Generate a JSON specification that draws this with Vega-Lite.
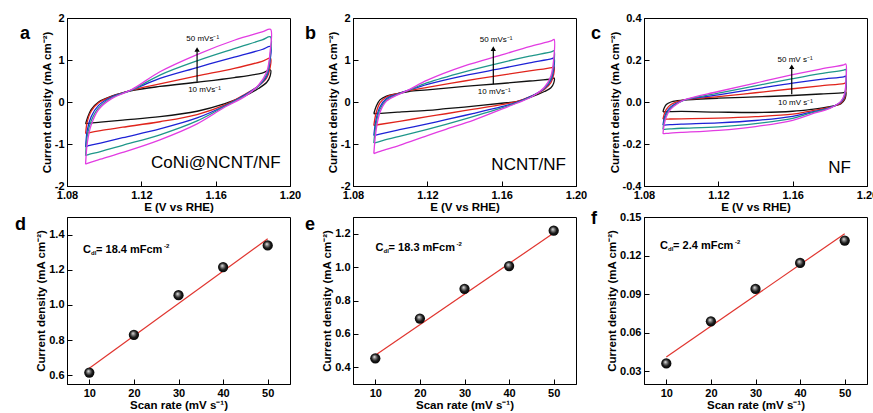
{
  "$schema": "https://vega.github.io/schema/vega-lite/v6.json",
  "background": "white",
  "padding": {"left": 14, "top": 11, "right": 0, "bottom": 0},
  "columns": 3,
  "align": "each",
  "spacing": {"column": 2, "row": -4},
  "datasets": {
    "cv": [
      {"p":"a","r":10,"i":0,"E":1.09,"j":-0.52},{"p":"a","r":10,"i":1,"E":1.091,"j":-0.38},{"p":"a","r":10,"i":2,"E":1.093,"j":-0.18},{"p":"a","r":10,"i":3,"E":1.097,"j":0.0},{"p":"a","r":10,"i":4,"E":1.104,"j":0.14},{"p":"a","r":10,"i":5,"E":1.115,"j":0.27},{"p":"a","r":10,"i":6,"E":1.13,"j":0.37},{"p":"a","r":10,"i":7,"E":1.15,"j":0.47},{"p":"a","r":10,"i":8,"E":1.17,"j":0.58},{"p":"a","r":10,"i":9,"E":1.185,"j":0.69},{"p":"a","r":10,"i":10,"E":1.1895,"j":0.76},{"p":"a","r":10,"i":11,"E":1.1893,"j":0.62},{"p":"a","r":10,"i":12,"E":1.1875,"j":0.47},{"p":"a","r":10,"i":13,"E":1.183,"j":0.32},{"p":"a","r":10,"i":14,"E":1.176,"j":0.15},{"p":"a","r":10,"i":15,"E":1.165,"j":-0.04},{"p":"a","r":10,"i":16,"E":1.15,"j":-0.22},{"p":"a","r":10,"i":17,"E":1.13,"j":-0.35},{"p":"a","r":10,"i":18,"E":1.11,"j":-0.43},{"p":"a","r":10,"i":19,"E":1.098,"j":-0.48},{"p":"a","r":10,"i":20,"E":1.091,"j":-0.51},{"p":"a","r":10,"i":21,"E":1.09,"j":-0.52},
      {"p":"a","r":20,"i":0,"E":1.09,"j":-0.75},{"p":"a","r":20,"i":1,"E":1.091,"j":-0.45},{"p":"a","r":20,"i":2,"E":1.093,"j":-0.22},{"p":"a","r":20,"i":3,"E":1.097,"j":-0.02},{"p":"a","r":20,"i":4,"E":1.104,"j":0.13},{"p":"a","r":20,"i":5,"E":1.115,"j":0.28},{"p":"a","r":20,"i":6,"E":1.13,"j":0.43},{"p":"a","r":20,"i":7,"E":1.15,"j":0.62},{"p":"a","r":20,"i":8,"E":1.17,"j":0.8},{"p":"a","r":20,"i":9,"E":1.185,"j":0.97},{"p":"a","r":20,"i":10,"E":1.1895,"j":1.04},{"p":"a","r":20,"i":11,"E":1.1893,"j":0.82},{"p":"a","r":20,"i":12,"E":1.1875,"j":0.58},{"p":"a","r":20,"i":13,"E":1.183,"j":0.38},{"p":"a","r":20,"i":14,"E":1.176,"j":0.19},{"p":"a","r":20,"i":15,"E":1.165,"j":-0.07},{"p":"a","r":20,"i":16,"E":1.15,"j":-0.3},{"p":"a","r":20,"i":17,"E":1.13,"j":-0.47},{"p":"a","r":20,"i":18,"E":1.11,"j":-0.6},{"p":"a","r":20,"i":19,"E":1.098,"j":-0.68},{"p":"a","r":20,"i":20,"E":1.091,"j":-0.74},{"p":"a","r":20,"i":21,"E":1.09,"j":-0.75},
      {"p":"a","r":30,"i":0,"E":1.09,"j":-1.07},{"p":"a","r":30,"i":1,"E":1.091,"j":-0.65},{"p":"a","r":30,"i":2,"E":1.093,"j":-0.35},{"p":"a","r":30,"i":3,"E":1.097,"j":-0.08},{"p":"a","r":30,"i":4,"E":1.104,"j":0.12},{"p":"a","r":30,"i":5,"E":1.115,"j":0.29},{"p":"a","r":30,"i":6,"E":1.13,"j":0.56},{"p":"a","r":30,"i":7,"E":1.15,"j":0.82},{"p":"a","r":30,"i":8,"E":1.17,"j":1.07},{"p":"a","r":30,"i":9,"E":1.185,"j":1.25},{"p":"a","r":30,"i":10,"E":1.1895,"j":1.32},{"p":"a","r":30,"i":11,"E":1.1893,"j":1.0},{"p":"a","r":30,"i":12,"E":1.1875,"j":0.62},{"p":"a","r":30,"i":13,"E":1.183,"j":0.38},{"p":"a","r":30,"i":14,"E":1.176,"j":0.18},{"p":"a","r":30,"i":15,"E":1.165,"j":-0.09},{"p":"a","r":30,"i":16,"E":1.15,"j":-0.38},{"p":"a","r":30,"i":17,"E":1.13,"j":-0.64},{"p":"a","r":30,"i":18,"E":1.11,"j":-0.85},{"p":"a","r":30,"i":19,"E":1.098,"j":-0.98},{"p":"a","r":30,"i":20,"E":1.091,"j":-1.05},{"p":"a","r":30,"i":21,"E":1.09,"j":-1.07},
      {"p":"a","r":40,"i":0,"E":1.09,"j":-1.28},{"p":"a","r":40,"i":1,"E":1.091,"j":-0.78},{"p":"a","r":40,"i":2,"E":1.093,"j":-0.45},{"p":"a","r":40,"i":3,"E":1.097,"j":-0.14},{"p":"a","r":40,"i":4,"E":1.104,"j":0.1},{"p":"a","r":40,"i":5,"E":1.115,"j":0.29},{"p":"a","r":40,"i":6,"E":1.13,"j":0.64},{"p":"a","r":40,"i":7,"E":1.15,"j":0.98},{"p":"a","r":40,"i":8,"E":1.17,"j":1.27},{"p":"a","r":40,"i":9,"E":1.185,"j":1.48},{"p":"a","r":40,"i":10,"E":1.1895,"j":1.55},{"p":"a","r":40,"i":11,"E":1.1893,"j":1.1},{"p":"a","r":40,"i":12,"E":1.1875,"j":0.66},{"p":"a","r":40,"i":13,"E":1.183,"j":0.38},{"p":"a","r":40,"i":14,"E":1.176,"j":0.16},{"p":"a","r":40,"i":15,"E":1.165,"j":-0.1},{"p":"a","r":40,"i":16,"E":1.15,"j":-0.45},{"p":"a","r":40,"i":17,"E":1.13,"j":-0.78},{"p":"a","r":40,"i":18,"E":1.11,"j":-1.03},{"p":"a","r":40,"i":19,"E":1.098,"j":-1.18},{"p":"a","r":40,"i":20,"E":1.091,"j":-1.26},{"p":"a","r":40,"i":21,"E":1.09,"j":-1.28},
      {"p":"a","r":50,"i":0,"E":1.09,"j":-1.48},{"p":"a","r":50,"i":1,"E":1.091,"j":-0.95},{"p":"a","r":50,"i":2,"E":1.093,"j":-0.55},{"p":"a","r":50,"i":3,"E":1.097,"j":-0.18},{"p":"a","r":50,"i":4,"E":1.104,"j":0.08},{"p":"a","r":50,"i":5,"E":1.115,"j":0.3},{"p":"a","r":50,"i":6,"E":1.13,"j":0.72},{"p":"a","r":50,"i":7,"E":1.15,"j":1.13},{"p":"a","r":50,"i":8,"E":1.17,"j":1.47},{"p":"a","r":50,"i":9,"E":1.185,"j":1.67},{"p":"a","r":50,"i":10,"E":1.1895,"j":1.73},{"p":"a","r":50,"i":11,"E":1.1893,"j":1.2},{"p":"a","r":50,"i":12,"E":1.1875,"j":0.72},{"p":"a","r":50,"i":13,"E":1.183,"j":0.4},{"p":"a","r":50,"i":14,"E":1.176,"j":0.14},{"p":"a","r":50,"i":15,"E":1.165,"j":-0.12},{"p":"a","r":50,"i":16,"E":1.15,"j":-0.52},{"p":"a","r":50,"i":17,"E":1.13,"j":-0.9},{"p":"a","r":50,"i":18,"E":1.11,"j":-1.2},{"p":"a","r":50,"i":19,"E":1.098,"j":-1.36},{"p":"a","r":50,"i":20,"E":1.091,"j":-1.46},{"p":"a","r":50,"i":21,"E":1.09,"j":-1.48},
      {"p":"b","r":10,"i":0,"E":1.0912,"j":-0.28},{"p":"b","r":10,"i":1,"E":1.0925,"j":-0.1},{"p":"b","r":10,"i":2,"E":1.0945,"j":0.05},{"p":"b","r":10,"i":3,"E":1.098,"j":0.14},{"p":"b","r":10,"i":4,"E":1.104,"j":0.2},{"p":"b","r":10,"i":5,"E":1.11,"j":0.25},{"p":"b","r":10,"i":6,"E":1.12,"j":0.29},{"p":"b","r":10,"i":7,"E":1.14,"j":0.37},{"p":"b","r":10,"i":8,"E":1.16,"j":0.44},{"p":"b","r":10,"i":9,"E":1.175,"j":0.5},{"p":"b","r":10,"i":10,"E":1.187,"j":0.55},{"p":"b","r":10,"i":11,"E":1.1882,"j":0.57},{"p":"b","r":10,"i":12,"E":1.188,"j":0.45},{"p":"b","r":10,"i":13,"E":1.1865,"j":0.34},{"p":"b","r":10,"i":14,"E":1.183,"j":0.25},{"p":"b","r":10,"i":15,"E":1.176,"j":0.12},{"p":"b","r":10,"i":16,"E":1.168,"j":0.01},{"p":"b","r":10,"i":17,"E":1.16,"j":-0.03},{"p":"b","r":10,"i":18,"E":1.145,"j":-0.1},{"p":"b","r":10,"i":19,"E":1.13,"j":-0.16},{"p":"b","r":10,"i":20,"E":1.12,"j":-0.2},{"p":"b","r":10,"i":21,"E":1.105,"j":-0.24},{"p":"b","r":10,"i":22,"E":1.095,"j":-0.27},{"p":"b","r":10,"i":23,"E":1.0912,"j":-0.28},
      {"p":"b","r":20,"i":0,"E":1.0912,"j":-0.56},{"p":"b","r":20,"i":1,"E":1.0925,"j":-0.25},{"p":"b","r":20,"i":2,"E":1.0945,"j":-0.02},{"p":"b","r":20,"i":3,"E":1.098,"j":0.12},{"p":"b","r":20,"i":4,"E":1.104,"j":0.2},{"p":"b","r":20,"i":5,"E":1.11,"j":0.27},{"p":"b","r":20,"i":6,"E":1.12,"j":0.35},{"p":"b","r":20,"i":7,"E":1.14,"j":0.5},{"p":"b","r":20,"i":8,"E":1.16,"j":0.64},{"p":"b","r":20,"i":9,"E":1.175,"j":0.74},{"p":"b","r":20,"i":10,"E":1.187,"j":0.82},{"p":"b","r":20,"i":11,"E":1.1882,"j":0.84},{"p":"b","r":20,"i":12,"E":1.188,"j":0.66},{"p":"b","r":20,"i":13,"E":1.1865,"j":0.46},{"p":"b","r":20,"i":14,"E":1.183,"j":0.3},{"p":"b","r":20,"i":15,"E":1.176,"j":0.14},{"p":"b","r":20,"i":16,"E":1.168,"j":0.01},{"p":"b","r":20,"i":17,"E":1.16,"j":-0.06},{"p":"b","r":20,"i":18,"E":1.145,"j":-0.17},{"p":"b","r":20,"i":19,"E":1.13,"j":-0.28},{"p":"b","r":20,"i":20,"E":1.12,"j":-0.35},{"p":"b","r":20,"i":21,"E":1.105,"j":-0.46},{"p":"b","r":20,"i":22,"E":1.095,"j":-0.53},{"p":"b","r":20,"i":23,"E":1.0912,"j":-0.56},
      {"p":"b","r":30,"i":0,"E":1.0912,"j":-0.8},{"p":"b","r":30,"i":1,"E":1.0925,"j":-0.4},{"p":"b","r":30,"i":2,"E":1.0945,"j":-0.12},{"p":"b","r":30,"i":3,"E":1.098,"j":0.08},{"p":"b","r":30,"i":4,"E":1.104,"j":0.19},{"p":"b","r":30,"i":5,"E":1.11,"j":0.28},{"p":"b","r":30,"i":6,"E":1.12,"j":0.42},{"p":"b","r":30,"i":7,"E":1.14,"j":0.63},{"p":"b","r":30,"i":8,"E":1.16,"j":0.8},{"p":"b","r":30,"i":9,"E":1.175,"j":0.93},{"p":"b","r":30,"i":10,"E":1.187,"j":1.03},{"p":"b","r":30,"i":11,"E":1.1882,"j":1.05},{"p":"b","r":30,"i":12,"E":1.188,"j":0.78},{"p":"b","r":30,"i":13,"E":1.1865,"j":0.52},{"p":"b","r":30,"i":14,"E":1.183,"j":0.32},{"p":"b","r":30,"i":15,"E":1.176,"j":0.14},{"p":"b","r":30,"i":16,"E":1.168,"j":-0.01},{"p":"b","r":30,"i":17,"E":1.16,"j":-0.11},{"p":"b","r":30,"i":18,"E":1.145,"j":-0.27},{"p":"b","r":30,"i":19,"E":1.13,"j":-0.42},{"p":"b","r":30,"i":20,"E":1.12,"j":-0.52},{"p":"b","r":30,"i":21,"E":1.105,"j":-0.66},{"p":"b","r":30,"i":22,"E":1.095,"j":-0.76},{"p":"b","r":30,"i":23,"E":1.0912,"j":-0.8},
      {"p":"b","r":40,"i":0,"E":1.0912,"j":-0.98},{"p":"b","r":40,"i":1,"E":1.0925,"j":-0.5},{"p":"b","r":40,"i":2,"E":1.0945,"j":-0.18},{"p":"b","r":40,"i":3,"E":1.098,"j":0.05},{"p":"b","r":40,"i":4,"E":1.104,"j":0.18},{"p":"b","r":40,"i":5,"E":1.11,"j":0.28},{"p":"b","r":40,"i":6,"E":1.12,"j":0.46},{"p":"b","r":40,"i":7,"E":1.14,"j":0.72},{"p":"b","r":40,"i":8,"E":1.16,"j":0.94},{"p":"b","r":40,"i":9,"E":1.175,"j":1.09},{"p":"b","r":40,"i":10,"E":1.187,"j":1.2},{"p":"b","r":40,"i":11,"E":1.1882,"j":1.22},{"p":"b","r":40,"i":12,"E":1.188,"j":0.88},{"p":"b","r":40,"i":13,"E":1.1865,"j":0.56},{"p":"b","r":40,"i":14,"E":1.183,"j":0.33},{"p":"b","r":40,"i":15,"E":1.176,"j":0.13},{"p":"b","r":40,"i":16,"E":1.168,"j":-0.02},{"p":"b","r":40,"i":17,"E":1.16,"j":-0.14},{"p":"b","r":40,"i":18,"E":1.145,"j":-0.34},{"p":"b","r":40,"i":19,"E":1.13,"j":-0.53},{"p":"b","r":40,"i":20,"E":1.12,"j":-0.65},{"p":"b","r":40,"i":21,"E":1.105,"j":-0.82},{"p":"b","r":40,"i":22,"E":1.095,"j":-0.93},{"p":"b","r":40,"i":23,"E":1.0912,"j":-0.98},
      {"p":"b","r":50,"i":0,"E":1.0912,"j":-1.23},{"p":"b","r":50,"i":1,"E":1.0925,"j":-0.65},{"p":"b","r":50,"i":2,"E":1.0945,"j":-0.25},{"p":"b","r":50,"i":3,"E":1.098,"j":0.02},{"p":"b","r":50,"i":4,"E":1.104,"j":0.17},{"p":"b","r":50,"i":5,"E":1.11,"j":0.29},{"p":"b","r":50,"i":6,"E":1.12,"j":0.52},{"p":"b","r":50,"i":7,"E":1.14,"j":0.86},{"p":"b","r":50,"i":8,"E":1.16,"j":1.12},{"p":"b","r":50,"i":9,"E":1.175,"j":1.32},{"p":"b","r":50,"i":10,"E":1.187,"j":1.46},{"p":"b","r":50,"i":11,"E":1.1882,"j":1.49},{"p":"b","r":50,"i":12,"E":1.188,"j":1.02},{"p":"b","r":50,"i":13,"E":1.1865,"j":0.62},{"p":"b","r":50,"i":14,"E":1.183,"j":0.35},{"p":"b","r":50,"i":15,"E":1.176,"j":0.12},{"p":"b","r":50,"i":16,"E":1.168,"j":-0.03},{"p":"b","r":50,"i":17,"E":1.16,"j":-0.17},{"p":"b","r":50,"i":18,"E":1.145,"j":-0.43},{"p":"b","r":50,"i":19,"E":1.13,"j":-0.65},{"p":"b","r":50,"i":20,"E":1.12,"j":-0.8},{"p":"b","r":50,"i":21,"E":1.105,"j":-1.03},{"p":"b","r":50,"i":22,"E":1.095,"j":-1.17},{"p":"b","r":50,"i":23,"E":1.0912,"j":-1.23},
      {"p":"c","r":10,"i":0,"E":1.0902,"j":-0.047},{"p":"c","r":10,"i":1,"E":1.0908,"j":-0.03},{"p":"c","r":10,"i":2,"E":1.092,"j":-0.012},{"p":"c","r":10,"i":3,"E":1.0945,"j":0.0},{"p":"c","r":10,"i":4,"E":1.098,"j":0.006},{"p":"c","r":10,"i":5,"E":1.102,"j":0.01},{"p":"c","r":10,"i":6,"E":1.12,"j":0.018},{"p":"c","r":10,"i":7,"E":1.14,"j":0.024},{"p":"c","r":10,"i":8,"E":1.16,"j":0.031},{"p":"c","r":10,"i":9,"E":1.175,"j":0.038},{"p":"c","r":10,"i":10,"E":1.1875,"j":0.045},{"p":"c","r":10,"i":11,"E":1.1886,"j":0.048},{"p":"c","r":10,"i":12,"E":1.1886,"j":0.03},{"p":"c","r":10,"i":13,"E":1.188,"j":0.012},{"p":"c","r":10,"i":14,"E":1.186,"j":-0.008},{"p":"c","r":10,"i":15,"E":1.18,"j":-0.022},{"p":"c","r":10,"i":16,"E":1.17,"j":-0.035},{"p":"c","r":10,"i":17,"E":1.16,"j":-0.044},{"p":"c","r":10,"i":18,"E":1.14,"j":-0.05},{"p":"c","r":10,"i":19,"E":1.12,"j":-0.048},{"p":"c","r":10,"i":20,"E":1.1,"j":-0.045},{"p":"c","r":10,"i":21,"E":1.094,"j":-0.046},{"p":"c","r":10,"i":22,"E":1.0905,"j":-0.047},{"p":"c","r":10,"i":23,"E":1.0902,"j":-0.047},
      {"p":"c","r":20,"i":0,"E":1.0902,"j":-0.082},{"p":"c","r":20,"i":1,"E":1.0908,"j":-0.06},{"p":"c","r":20,"i":2,"E":1.092,"j":-0.035},{"p":"c","r":20,"i":3,"E":1.0945,"j":-0.012},{"p":"c","r":20,"i":4,"E":1.098,"j":0.002},{"p":"c","r":20,"i":5,"E":1.102,"j":0.01},{"p":"c","r":20,"i":6,"E":1.12,"j":0.026},{"p":"c","r":20,"i":7,"E":1.14,"j":0.044},{"p":"c","r":20,"i":8,"E":1.16,"j":0.063},{"p":"c","r":20,"i":9,"E":1.175,"j":0.077},{"p":"c","r":20,"i":10,"E":1.1875,"j":0.088},{"p":"c","r":20,"i":11,"E":1.1886,"j":0.091},{"p":"c","r":20,"i":12,"E":1.1886,"j":0.05},{"p":"c","r":20,"i":13,"E":1.188,"j":0.02},{"p":"c","r":20,"i":14,"E":1.186,"j":-0.005},{"p":"c","r":20,"i":15,"E":1.18,"j":-0.025},{"p":"c","r":20,"i":16,"E":1.17,"j":-0.042},{"p":"c","r":20,"i":17,"E":1.16,"j":-0.058},{"p":"c","r":20,"i":18,"E":1.14,"j":-0.07},{"p":"c","r":20,"i":19,"E":1.12,"j":-0.077},{"p":"c","r":20,"i":20,"E":1.1,"j":-0.08},{"p":"c","r":20,"i":21,"E":1.094,"j":-0.081},{"p":"c","r":20,"i":22,"E":1.0905,"j":-0.082},{"p":"c","r":20,"i":23,"E":1.0902,"j":-0.082},
      {"p":"c","r":30,"i":0,"E":1.0902,"j":-0.11},{"p":"c","r":30,"i":1,"E":1.0908,"j":-0.08},{"p":"c","r":30,"i":2,"E":1.092,"j":-0.05},{"p":"c","r":30,"i":3,"E":1.0945,"j":-0.022},{"p":"c","r":30,"i":4,"E":1.098,"j":-0.004},{"p":"c","r":30,"i":5,"E":1.102,"j":0.01},{"p":"c","r":30,"i":6,"E":1.12,"j":0.034},{"p":"c","r":30,"i":7,"E":1.14,"j":0.062},{"p":"c","r":30,"i":8,"E":1.16,"j":0.09},{"p":"c","r":30,"i":9,"E":1.175,"j":0.108},{"p":"c","r":30,"i":10,"E":1.1875,"j":0.12},{"p":"c","r":30,"i":11,"E":1.1886,"j":0.123},{"p":"c","r":30,"i":12,"E":1.1886,"j":0.068},{"p":"c","r":30,"i":13,"E":1.188,"j":0.03},{"p":"c","r":30,"i":14,"E":1.186,"j":0.0},{"p":"c","r":30,"i":15,"E":1.18,"j":-0.027},{"p":"c","r":30,"i":16,"E":1.17,"j":-0.048},{"p":"c","r":30,"i":17,"E":1.16,"j":-0.068},{"p":"c","r":30,"i":18,"E":1.14,"j":-0.088},{"p":"c","r":30,"i":19,"E":1.12,"j":-0.099},{"p":"c","r":30,"i":20,"E":1.1,"j":-0.105},{"p":"c","r":30,"i":21,"E":1.094,"j":-0.108},{"p":"c","r":30,"i":22,"E":1.0905,"j":-0.11},{"p":"c","r":30,"i":23,"E":1.0902,"j":-0.11},
      {"p":"c","r":40,"i":0,"E":1.0902,"j":-0.13},{"p":"c","r":40,"i":1,"E":1.0908,"j":-0.095},{"p":"c","r":40,"i":2,"E":1.092,"j":-0.06},{"p":"c","r":40,"i":3,"E":1.0945,"j":-0.028},{"p":"c","r":40,"i":4,"E":1.098,"j":-0.006},{"p":"c","r":40,"i":5,"E":1.102,"j":0.01},{"p":"c","r":40,"i":6,"E":1.12,"j":0.042},{"p":"c","r":40,"i":7,"E":1.14,"j":0.077},{"p":"c","r":40,"i":8,"E":1.16,"j":0.111},{"p":"c","r":40,"i":9,"E":1.175,"j":0.135},{"p":"c","r":40,"i":10,"E":1.1875,"j":0.152},{"p":"c","r":40,"i":11,"E":1.1886,"j":0.155},{"p":"c","r":40,"i":12,"E":1.1886,"j":0.08},{"p":"c","r":40,"i":13,"E":1.188,"j":0.035},{"p":"c","r":40,"i":14,"E":1.186,"j":0.002},{"p":"c","r":40,"i":15,"E":1.18,"j":-0.028},{"p":"c","r":40,"i":16,"E":1.17,"j":-0.052},{"p":"c","r":40,"i":17,"E":1.16,"j":-0.078},{"p":"c","r":40,"i":18,"E":1.14,"j":-0.103},{"p":"c","r":40,"i":19,"E":1.12,"j":-0.118},{"p":"c","r":40,"i":20,"E":1.1,"j":-0.125},{"p":"c","r":40,"i":21,"E":1.094,"j":-0.128},{"p":"c","r":40,"i":22,"E":1.0905,"j":-0.13},{"p":"c","r":40,"i":23,"E":1.0902,"j":-0.13},
      {"p":"c","r":50,"i":0,"E":1.0902,"j":-0.151},{"p":"c","r":50,"i":1,"E":1.0908,"j":-0.11},{"p":"c","r":50,"i":2,"E":1.092,"j":-0.07},{"p":"c","r":50,"i":3,"E":1.0945,"j":-0.033},{"p":"c","r":50,"i":4,"E":1.098,"j":-0.008},{"p":"c","r":50,"i":5,"E":1.102,"j":0.011},{"p":"c","r":50,"i":6,"E":1.12,"j":0.05},{"p":"c","r":50,"i":7,"E":1.14,"j":0.09},{"p":"c","r":50,"i":8,"E":1.16,"j":0.13},{"p":"c","r":50,"i":9,"E":1.175,"j":0.157},{"p":"c","r":50,"i":10,"E":1.1875,"j":0.177},{"p":"c","r":50,"i":11,"E":1.1886,"j":0.181},{"p":"c","r":50,"i":12,"E":1.1886,"j":0.09},{"p":"c","r":50,"i":13,"E":1.188,"j":0.04},{"p":"c","r":50,"i":14,"E":1.186,"j":0.004},{"p":"c","r":50,"i":15,"E":1.18,"j":-0.03},{"p":"c","r":50,"i":16,"E":1.17,"j":-0.058},{"p":"c","r":50,"i":17,"E":1.16,"j":-0.087},{"p":"c","r":50,"i":18,"E":1.14,"j":-0.117},{"p":"c","r":50,"i":19,"E":1.12,"j":-0.135},{"p":"c","r":50,"i":20,"E":1.1,"j":-0.145},{"p":"c","r":50,"i":21,"E":1.094,"j":-0.148},{"p":"c","r":50,"i":22,"E":1.0905,"j":-0.151},{"p":"c","r":50,"i":23,"E":1.0902,"j":-0.151}
    ],
    "pts": [
      {"p":"d","rate":10,"j":0.615},{"p":"d","rate":20,"j":0.83},{"p":"d","rate":30,"j":1.055},{"p":"d","rate":40,"j":1.215},{"p":"d","rate":50,"j":1.338},
      {"p":"e","rate":10,"j":0.454},{"p":"e","rate":20,"j":0.692},{"p":"e","rate":30,"j":0.87},{"p":"e","rate":40,"j":1.006},{"p":"e","rate":50,"j":1.218},
      {"p":"f","rate":10,"j":0.036},{"p":"f","rate":20,"j":0.0688},{"p":"f","rate":30,"j":0.094},{"p":"f","rate":40,"j":0.1142},{"p":"f","rate":50,"j":0.1317}
    ],
    "fit": [
      {"p":"d","rate":10,"j":0.64},{"p":"d","rate":50,"j":1.376},
      {"p":"e","rate":10,"j":0.472},{"p":"e","rate":50,"j":1.204},
      {"p":"f","rate":10,"j":0.041},{"p":"f","rate":50,"j":0.137}
    ]
  },
  "concat": [
    {
      "width": 223, "height": 168,
      "title": {"text": "a", "dx": -47, "dy": 35},
      "layer": [
        {
          "data": {"name": "cv"},
          "transform": [{"filter": "datum.p == 'a'"}],
          "mark": {"type": "line", "interpolate": "catmull-rom", "strokeWidth": 1.3},
          "encoding": {
            "x": {"field": "E", "type": "quantitative", "scale": {"domain": [1.08, 1.2], "nice": false, "zero": false},
              "axis": {"title": "E (V vs RHE)", "values": [1.08, 1.1, 1.12, 1.14, 1.16, 1.18, 1.2], "labelExpr": "round(datum.value*100) % 4 == 0 ? format(datum.value, '.2f') : ''", "tickSize": {"condition": {"test": "round(datum.value*100) % 4 != 0", "value": -3}, "value": -5}}},
            "y": {"field": "j", "type": "quantitative", "scale": {"domain": [-2, 2], "nice": false},
              "axis": {"title": "Current density (mA cm⁻²)", "values": [-2, -1.5, -1, -0.5, 0, 0.5, 1, 1.5, 2], "labelExpr": "round(datum.value*2) % 2 == 0 ? '' + datum.value : ''", "tickSize": {"condition": {"test": "round(datum.value*2) % 2 != 0", "value": -3}, "value": -5}}},
            "color": {"field": "r", "type": "nominal", "scale": {"domain": [10, 20, 30, 40, 50], "range": ["#111111", "#e0241c", "#1e22d6", "#1f978a", "#e23ce2"]}, "legend": null},
            "order": {"field": "i", "type": "quantitative"}
          }
        },
        {"data": {"values": [{}]}, "mark": {"type": "rule", "strokeWidth": 1.2, "color": "#000"}, "encoding": {"x": {"datum": 1.15}, "y": {"datum": 0.48}, "y2": {"datum": 1.2}}},
        {"data": {"values": [{}]}, "mark": {"type": "point", "shape": "triangle-up", "filled": true, "color": "#000", "size": 28, "opacity": 1}, "encoding": {"x": {"datum": 1.15}, "y": {"datum": 1.25}}},
        {"data": {"values": [{}]}, "mark": {"type": "text", "text": "50 mVs⁻¹", "fontSize": 8}, "encoding": {"x": {"datum": 1.153}, "y": {"datum": 1.5}}},
        {"data": {"values": [{}]}, "mark": {"type": "text", "text": "10 mVs⁻¹", "fontSize": 8}, "encoding": {"x": {"datum": 1.154}, "y": {"datum": 0.28}}},
        {"data": {"values": [{}]}, "mark": {"type": "text", "text": "CoNi@NCNT/NF", "fontSize": 17, "align": "right", "baseline": "alphabetic"}, "encoding": {"x": {"datum": 1.195}, "y": {"datum": -1.57}}}
      ]
    },
    {
      "width": 223, "height": 168,
      "title": {"text": "b", "dx": -48, "dy": 35},
      "layer": [
        {
          "data": {"name": "cv"},
          "transform": [{"filter": "datum.p == 'b'"}],
          "mark": {"type": "line", "interpolate": "catmull-rom", "strokeWidth": 1.3},
          "encoding": {
            "x": {"field": "E", "type": "quantitative", "scale": {"domain": [1.08, 1.2], "nice": false, "zero": false},
              "axis": {"title": "E (V vs RHE)", "values": [1.08, 1.1, 1.12, 1.14, 1.16, 1.18, 1.2], "labelExpr": "round(datum.value*100) % 4 == 0 ? format(datum.value, '.2f') : ''", "tickSize": {"condition": {"test": "round(datum.value*100) % 4 != 0", "value": -3}, "value": -5}}},
            "y": {"field": "j", "type": "quantitative", "scale": {"domain": [-2, 2], "nice": false},
              "axis": {"title": "Current density (mA cm⁻²)", "values": [-2, -1.5, -1, -0.5, 0, 0.5, 1, 1.5, 2], "labelExpr": "round(datum.value*2) % 2 == 0 ? '' + datum.value : ''", "tickSize": {"condition": {"test": "round(datum.value*2) % 2 != 0", "value": -3}, "value": -5}}},
            "color": {"field": "r", "type": "nominal", "scale": {"domain": [10, 20, 30, 40, 50], "range": ["#111111", "#e0241c", "#1e22d6", "#1f978a", "#e23ce2"]}, "legend": null},
            "order": {"field": "i", "type": "quantitative"}
          }
        },
        {"data": {"values": [{}]}, "mark": {"type": "rule", "strokeWidth": 1.2, "color": "#000"}, "encoding": {"x": {"datum": 1.1555}, "y": {"datum": 0.42}, "y2": {"datum": 1.22}}},
        {"data": {"values": [{}]}, "mark": {"type": "point", "shape": "triangle-up", "filled": true, "color": "#000", "size": 28, "opacity": 1}, "encoding": {"x": {"datum": 1.1555}, "y": {"datum": 1.27}}},
        {"data": {"values": [{}]}, "mark": {"type": "text", "text": "50 mVs⁻¹", "fontSize": 8}, "encoding": {"x": {"datum": 1.157}, "y": {"datum": 1.48}}},
        {"data": {"values": [{}]}, "mark": {"type": "text", "text": "10 mVs⁻¹", "fontSize": 8}, "encoding": {"x": {"datum": 1.156}, "y": {"datum": 0.24}}},
        {"data": {"values": [{}]}, "mark": {"type": "text", "text": "NCNT/NF", "fontSize": 17, "align": "right", "baseline": "alphabetic"}, "encoding": {"x": {"datum": 1.1946}, "y": {"datum": -1.62}}}
      ]
    },
    {
      "width": 223, "height": 168,
      "title": {"text": "c", "dx": -53, "dy": 35},
      "layer": [
        {
          "data": {"name": "cv"},
          "transform": [{"filter": "datum.p == 'c'"}],
          "mark": {"type": "line", "interpolate": "catmull-rom", "strokeWidth": 1.3},
          "encoding": {
            "x": {"field": "E", "type": "quantitative", "scale": {"domain": [1.08, 1.2], "nice": false, "zero": false},
              "axis": {"title": "E (V vs RHE)", "values": [1.08, 1.1, 1.12, 1.14, 1.16, 1.18, 1.2], "labelExpr": "round(datum.value*100) % 4 == 0 ? format(datum.value, '.2f') : ''", "tickSize": {"condition": {"test": "round(datum.value*100) % 4 != 0", "value": -3}, "value": -5}}},
            "y": {"field": "j", "type": "quantitative", "scale": {"domain": [-0.4, 0.4], "nice": false},
              "axis": {"title": "Current density (mA cm⁻²)", "values": [-0.4, -0.3, -0.2, -0.1, 0, 0.1, 0.2, 0.3, 0.4], "labelExpr": "round(datum.value*10) % 2 == 0 ? (datum.value < 0 ? '-' : '') + format(abs(datum.value), '.1f') : ''", "tickSize": {"condition": {"test": "round(datum.value*10) % 2 != 0", "value": -3}, "value": -5}}},
            "color": {"field": "r", "type": "nominal", "scale": {"domain": [10, 20, 30, 40, 50], "range": ["#111111", "#e0241c", "#1e22d6", "#1f978a", "#e23ce2"]}, "legend": null},
            "order": {"field": "i", "type": "quantitative"}
          }
        },
        {"data": {"values": [{}]}, "mark": {"type": "rule", "strokeWidth": 1.2, "color": "#000"}, "encoding": {"x": {"datum": 1.1595}, "y": {"datum": 0.037}, "y2": {"datum": 0.16}}},
        {"data": {"values": [{}]}, "mark": {"type": "point", "shape": "triangle-up", "filled": true, "color": "#000", "size": 28, "opacity": 1}, "encoding": {"x": {"datum": 1.1595}, "y": {"datum": 0.168}}},
        {"data": {"values": [{}]}, "mark": {"type": "text", "text": "50 mV s⁻¹", "fontSize": 8}, "encoding": {"x": {"datum": 1.1613}, "y": {"datum": 0.202}}},
        {"data": {"values": [{}]}, "mark": {"type": "text", "text": "10 mV s⁻¹", "fontSize": 8}, "encoding": {"x": {"datum": 1.1615}, "y": {"datum": -0.006}}},
        {"data": {"values": [{}]}, "mark": {"type": "text", "text": "NF", "fontSize": 17, "align": "right", "baseline": "alphabetic"}, "encoding": {"x": {"datum": 1.1914}, "y": {"datum": -0.338}}}
      ]
    },
    {
      "width": 223, "height": 167,
      "title": {"text": "d", "dx": -52, "dy": 21},
      "layer": [
        {
          "data": {"name": "fit"},
          "transform": [{"filter": "datum.p == 'd'"}],
          "mark": {"type": "line", "color": "#e0352f", "strokeWidth": 1.2},
          "encoding": {
            "x": {"field": "rate", "type": "quantitative", "scale": {"domain": [5, 55], "nice": false, "zero": false},
              "axis": {"title": "Scan rate (mV s⁻¹)", "values": [10, 15, 20, 25, 30, 35, 40, 45, 50], "labelExpr": "datum.value % 10 == 0 ? '' + datum.value : ''", "tickSize": {"condition": {"test": "datum.value % 10 != 0", "value": -3}, "value": -5}}},
            "y": {"field": "j", "type": "quantitative", "scale": {"domain": [0.55, 1.5], "nice": false, "zero": false},
              "axis": {"title": "Current density (mA cm⁻²)", "values": [0.6, 0.7, 0.8, 0.9, 1.0, 1.1, 1.2, 1.3, 1.4], "labelExpr": "round(datum.value*10) % 2 == 0 ? format(datum.value, '.1f') : ''", "tickSize": {"condition": {"test": "round(datum.value*10) % 2 != 0", "value": -3}, "value": -5}}}
          }
        },
        {
          "data": {"name": "pts"},
          "transform": [{"filter": "datum.p == 'd'"}],
          "mark": {"type": "point", "filled": true, "size": 105, "opacity": 1, "strokeWidth": 0, "fill": {"gradient": "radial", "x1": 0.4, "y1": 0.35, "r1": 0, "x2": 0.5, "y2": 0.5, "r2": 0.55, "stops": [{"offset": 0, "color": "#f2f2f2"}, {"offset": 0.25, "color": "#8a8a8a"}, {"offset": 0.6, "color": "#1c1c1c"}, {"offset": 1, "color": "#000000"}]}},
          "encoding": {"x": {"field": "rate", "type": "quantitative"}, "y": {"field": "j", "type": "quantitative"}}
        },
        {"data": {"values": [{}]}, "mark": {"type": "text", "text": "C", "fontSize": 11, "fontWeight": "bold", "align": "left", "baseline": "alphabetic"}, "encoding": {"x": {"datum": 8.6}, "y": {"datum": 1.298}}},
        {"data": {"values": [{}]}, "mark": {"type": "text", "text": "dl", "fontSize": 6, "fontWeight": "bold", "align": "left", "baseline": "alphabetic", "dx": 8, "dy": 2}, "encoding": {"x": {"datum": 8.6}, "y": {"datum": 1.298}}},
        {"data": {"values": [{}]}, "mark": {"type": "text", "text": "= 18.4 mFcm", "fontSize": 11, "fontWeight": "bold", "align": "left", "baseline": "alphabetic", "dx": 13}, "encoding": {"x": {"datum": 8.6}, "y": {"datum": 1.298}}},
        {"data": {"values": [{}]}, "mark": {"type": "text", "text": "-2", "fontSize": 6, "fontWeight": "bold", "align": "left", "baseline": "alphabetic", "dx": 81, "dy": -5}, "encoding": {"x": {"datum": 8.6}, "y": {"datum": 1.298}}}
      ]
    },
    {
      "width": 223, "height": 167,
      "title": {"text": "e", "dx": -48, "dy": 21},
      "layer": [
        {
          "data": {"name": "fit"},
          "transform": [{"filter": "datum.p == 'e'"}],
          "mark": {"type": "line", "color": "#e0352f", "strokeWidth": 1.2},
          "encoding": {
            "x": {"field": "rate", "type": "quantitative", "scale": {"domain": [5, 55], "nice": false, "zero": false},
              "axis": {"title": "Scan rate (mV s⁻¹)", "values": [10, 15, 20, 25, 30, 35, 40, 45, 50], "labelExpr": "datum.value % 10 == 0 ? '' + datum.value : ''", "tickSize": {"condition": {"test": "datum.value % 10 != 0", "value": -3}, "value": -5}}},
            "y": {"field": "j", "type": "quantitative", "scale": {"domain": [0.3, 1.3], "nice": false, "zero": false},
              "axis": {"title": "Current density (mA cm⁻²)", "values": [0.4, 0.5, 0.6, 0.7, 0.8, 0.9, 1.0, 1.1, 1.2], "labelExpr": "round(datum.value*10) % 2 == 0 ? format(datum.value, '.1f') : ''", "tickSize": {"condition": {"test": "round(datum.value*10) % 2 != 0", "value": -3}, "value": -5}}}
          }
        },
        {
          "data": {"name": "pts"},
          "transform": [{"filter": "datum.p == 'e'"}],
          "mark": {"type": "point", "filled": true, "size": 105, "opacity": 1, "strokeWidth": 0, "fill": {"gradient": "radial", "x1": 0.4, "y1": 0.35, "r1": 0, "x2": 0.5, "y2": 0.5, "r2": 0.55, "stops": [{"offset": 0, "color": "#f2f2f2"}, {"offset": 0.25, "color": "#8a8a8a"}, {"offset": 0.6, "color": "#1c1c1c"}, {"offset": 1, "color": "#000000"}]}},
          "encoding": {"x": {"field": "rate", "type": "quantitative"}, "y": {"field": "j", "type": "quantitative"}}
        },
        {"data": {"values": [{}]}, "mark": {"type": "text", "text": "C", "fontSize": 11, "fontWeight": "bold", "align": "left", "baseline": "alphabetic"}, "encoding": {"x": {"datum": 10.07}, "y": {"datum": 1.096}}},
        {"data": {"values": [{}]}, "mark": {"type": "text", "text": "dl", "fontSize": 6, "fontWeight": "bold", "align": "left", "baseline": "alphabetic", "dx": 8, "dy": 2}, "encoding": {"x": {"datum": 10.07}, "y": {"datum": 1.096}}},
        {"data": {"values": [{}]}, "mark": {"type": "text", "text": "= 18.3 mFcm", "fontSize": 11, "fontWeight": "bold", "align": "left", "baseline": "alphabetic", "dx": 13}, "encoding": {"x": {"datum": 10.07}, "y": {"datum": 1.096}}},
        {"data": {"values": [{}]}, "mark": {"type": "text", "text": "-2", "fontSize": 6, "fontWeight": "bold", "align": "left", "baseline": "alphabetic", "dx": 81, "dy": -5}, "encoding": {"x": {"datum": 10.07}, "y": {"datum": 1.096}}}
      ]
    },
    {
      "width": 223, "height": 167,
      "title": {"text": "f", "dx": -53, "dy": 21},
      "layer": [
        {
          "data": {"name": "fit"},
          "transform": [{"filter": "datum.p == 'f'"}],
          "mark": {"type": "line", "color": "#e0352f", "strokeWidth": 1.2},
          "encoding": {
            "x": {"field": "rate", "type": "quantitative", "scale": {"domain": [5, 55], "nice": false, "zero": false},
              "axis": {"title": "Scan rate (mV s⁻¹)", "values": [10, 15, 20, 25, 30, 35, 40, 45, 50], "labelExpr": "datum.value % 10 == 0 ? '' + datum.value : ''", "tickSize": {"condition": {"test": "datum.value % 10 != 0", "value": -3}, "value": -5}}},
            "y": {"field": "j", "type": "quantitative", "scale": {"domain": [0.02, 0.15], "nice": false, "zero": false},
              "axis": {"title": "Current density (mA cm⁻²)", "values": [0.03, 0.045, 0.06, 0.075, 0.09, 0.105, 0.12, 0.135, 0.15], "labelExpr": "round(datum.value*1000) % 30 == 0 ? format(datum.value, '.2f') : ''", "tickSize": {"condition": {"test": "round(datum.value*1000) % 30 != 0", "value": -3}, "value": -5}}}
          }
        },
        {
          "data": {"name": "pts"},
          "transform": [{"filter": "datum.p == 'f'"}],
          "mark": {"type": "point", "filled": true, "size": 105, "opacity": 1, "strokeWidth": 0, "fill": {"gradient": "radial", "x1": 0.4, "y1": 0.35, "r1": 0, "x2": 0.5, "y2": 0.5, "r2": 0.55, "stops": [{"offset": 0, "color": "#f2f2f2"}, {"offset": 0.25, "color": "#8a8a8a"}, {"offset": 0.6, "color": "#1c1c1c"}, {"offset": 1, "color": "#000000"}]}},
          "encoding": {"x": {"field": "rate", "type": "quantitative"}, "y": {"field": "j", "type": "quantitative"}}
        },
        {"data": {"values": [{}]}, "mark": {"type": "text", "text": "C", "fontSize": 11, "fontWeight": "bold", "align": "left", "baseline": "alphabetic"}, "encoding": {"x": {"datum": 8.6}, "y": {"datum": 0.1252}}},
        {"data": {"values": [{}]}, "mark": {"type": "text", "text": "dl", "fontSize": 6, "fontWeight": "bold", "align": "left", "baseline": "alphabetic", "dx": 8, "dy": 2}, "encoding": {"x": {"datum": 8.6}, "y": {"datum": 0.1252}}},
        {"data": {"values": [{}]}, "mark": {"type": "text", "text": "= 2.4 mFcm", "fontSize": 11, "fontWeight": "bold", "align": "left", "baseline": "alphabetic", "dx": 13}, "encoding": {"x": {"datum": 8.6}, "y": {"datum": 0.1252}}},
        {"data": {"values": [{}]}, "mark": {"type": "text", "text": "-2", "fontSize": 6, "fontWeight": "bold", "align": "left", "baseline": "alphabetic", "dx": 75, "dy": -5}, "encoding": {"x": {"datum": 8.6}, "y": {"datum": 0.1252}}}
      ]
    }
  ],
  "config": {
    "font": "Liberation Sans",
    "view": {"stroke": "#000", "strokeWidth": 1},
    "axis": {"grid": false, "domainColor": "#000", "domainWidth": 1, "tickColor": "#000", "tickWidth": 1, "labelColor": "#000", "labelFont": "Liberation Sans", "labelFontSize": 11, "labelFontWeight": "bold", "labelOverlap": false, "labelFlush": false, "titleColor": "#000", "titleFont": "Liberation Sans", "titleFontSize": 11.5, "titleFontWeight": "bold"},
    "axisX": {"labelPadding": 8, "titlePadding": 1},
    "axisY": {"labelPadding": 8, "titlePadding": 2},
    "title": {"anchor": "start", "frame": "group", "fontSize": 18, "fontWeight": "bold", "font": "Liberation Sans", "color": "#000", "offset": 0},
    "text": {"font": "Liberation Sans", "color": "#000"}
  }
}
